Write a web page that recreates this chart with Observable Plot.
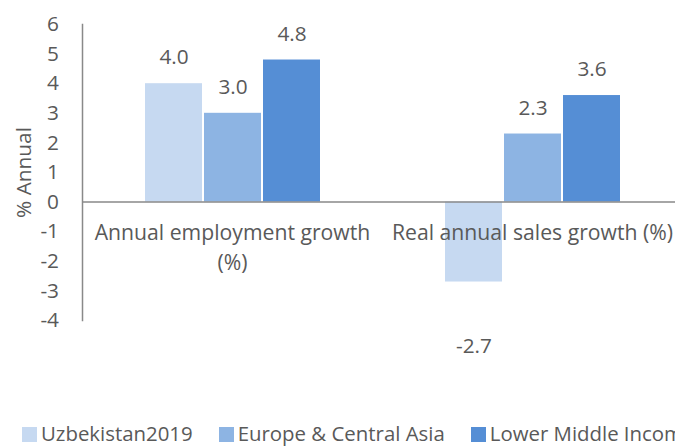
<!DOCTYPE html>
<html>
<head>
<meta charset="utf-8">
<script src="https://cdn.jsdelivr.net/npm/d3@7"></script>
<script src="https://cdn.jsdelivr.net/npm/@observablehq/plot@0.6"></script>
<style>
  html, body { margin: 0; padding: 0; background: #fff; overflow: hidden; width: 675px; height: 446px; }
  #legend { width: 653px; height: 26px; padding-top: 0px; white-space: nowrap; overflow: hidden;
            font-family: "Open Sans", sans-serif; font-size: 20.4px; line-height: 26px; color: #595959; padding-left: 22px; box-sizing: content-box; }
  .item { display: inline-block; margin-right: 26px; }
  .sw { display: inline-block; width: 15px; height: 15px; margin-right: 4px; vertical-align: -1px; }
</style>
</head>
<body>
<div id="chart"></div>
<div id="legend"></div>
<script>
const categories = ["Annual employment growth (%)", "Real annual sales growth (%)"];
const categoryLabels = ["Annual employment growth\n(%)", "Real annual sales growth (%)"];
const series = ["Uzbekistan2019", "Europe & Central Asia", "Lower Middle Income"];
const uzbekistan = [4.0, -2.7];
const europeCentralAsia = [3.0, 2.3];
const lowerMiddleIncome = [4.8, 3.6];
const yTicks = [-4, -3, -2, -1, 0, 1, 2, 3, 4, 5, 6];
const colors = ["#C6D9F1", "#8DB4E3", "#558ED5"];

const values = [uzbekistan, europeCentralAsia, lowerMiddleIncome];
const rows = [];
categories.forEach((c, i) => series.forEach((s, j) => rows.push({category: c, series: s, value: values[j][i]})));
const catRows = categories.map((c, i) => ({category: c, label: categoryLabels[i]}));

const axisColor = "#898989";
const textColor = "#595959";

const chart = Plot.plot({
  width: 675,
  height: 420,
  marginLeft: 82,
  marginRight: -7,
  marginTop: 24,
  marginBottom: 100,
  style: {fontFamily: "Open Sans", fontSize: "20.8px", color: textColor, background: "#fff"},
  fx: {domain: categories, padding: 0, axis: null},
  x: {domain: series, paddingInner: 0.04, paddingOuter: 1.05, axis: null},
  y: {domain: [-4, 6], ticks: yTicks, tickSize: 0, tickPadding: 23.5, tickFormat: d => String(d),
      label: "% Annual", labelAnchor: "center", labelOffset: 66, labelArrow: "none"},
  color: {domain: series, range: colors},
  marks: [
    Plot.barY(rows, {fx: "category", x: "series", y: "value", fill: "series"}),
    Plot.ruleY([0], {stroke: axisColor, strokeWidth: 1.5}),
    Plot.frame({anchor: "left", facet: "super", stroke: axisColor, strokeWidth: 1.5}),
    Plot.text(rows.filter(d => d.value >= 0), {fx: "category", x: "series", y: "value", text: d => d.value.toFixed(1), lineAnchor: "top", dy: -34, fill: textColor}),
    Plot.text(rows.filter(d => d.value < 0), {fx: "category", x: "series", y: "value", text: d => d.value.toFixed(1), lineAnchor: "top", dy: 56, fill: textColor}),
    Plot.text(catRows, {fx: "category", y: d => 0, text: "label", lineAnchor: "top", dy: 16, lineHeight: 1.44, fontSize: 21.2, fill: textColor})
  ]
});
document.getElementById("chart").appendChild(chart);

const legend = document.getElementById("legend");
series.forEach((s, i) => {
  const item = document.createElement("span");
  item.className = "item";
  const sw = document.createElement("span");
  sw.className = "sw";
  sw.style.background = colors[i];
  item.appendChild(sw);
  item.appendChild(document.createTextNode(s));
  legend.appendChild(item);
});
</script>
</body>
</html>
